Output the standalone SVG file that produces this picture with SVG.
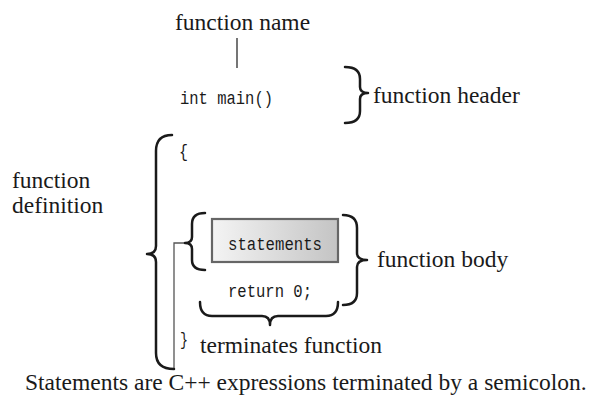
<svg xmlns="http://www.w3.org/2000/svg" width="599" height="396" viewBox="0 0 599 396">
<style>
.serif{font-family:"Liberation Serif","Times New Roman",serif;font-size:23.5px;fill:#1a1a1a}
.mono{font-family:"Liberation Mono","DejaVu Sans Mono",monospace;font-size:18.5px;fill:#1a1a1a}
.brace{fill:none;stroke:#1a1a1a;stroke-width:2.5;stroke-linecap:round;stroke-linejoin:round}
.thin{fill:none;stroke:#555;stroke-width:1.3}
.name{fill:none;stroke:#1a1a1a;stroke-width:1.2}
</style>
<defs>
<linearGradient id="g" x1="0" y1="0" x2="1" y2="0">
<stop offset="0" stop-color="#f4f4f4"/>
<stop offset="1" stop-color="#c4c4c4"/>
</linearGradient>
</defs>
<rect width="599" height="396" fill="#fff"/>
<g id="connectors">
<line class="name" x1="237" y1="38" x2="237" y2="68"/>
<path class="thin" d="M174 369 L174 243 L186 243"/>
</g>
<g id="function-name"><text class="serif" x="175" y="30">function name</text></g>
<g id="header">
<text class="mono" x="180" y="104" textLength="93" lengthAdjust="spacingAndGlyphs">int main()</text>
<path class="brace" d="M345 67 Q360 67 360 79 L360 87 Q360 93 368 93 Q360 93 360 99 L360 111 Q360 123 345 123"/>
<text class="serif" x="373" y="103">function header</text>
</g>
<g id="definition">
<path class="brace" d="M172 135 Q156 135 156 151 L156 246 Q156 254 147 254 Q156 254 156 262 L156 353 Q156 369 174 369"/>
<text class="serif" x="12" y="188">function</text>
<text class="serif" x="12" y="213">definition</text>
<text class="mono" x="179" y="157" textLength="9" lengthAdjust="spacingAndGlyphs">{</text>
</g>
<g id="statements">
<path class="brace" d="M205 213 Q192 213 192 224 L192 237 Q192 243 185 243 Q192 243 192 249 L192 260 Q192 270 205 270"/>
<rect x="212" y="219" width="126" height="43" fill="url(#g)" stroke="#666" stroke-width="2.2"/>
<text class="mono" x="228" y="250" textLength="94" lengthAdjust="spacingAndGlyphs">statements</text>
</g>
<g id="body">
<text class="mono" x="228" y="297" textLength="84" lengthAdjust="spacingAndGlyphs">return 0;</text>
<path class="brace" d="M343 215 Q357 215 357 228 L357 253 Q357 260 367 260 Q357 260 357 267 L357 293 Q357 305 343 305"/>
<text class="serif" x="377" y="267">function body</text>
</g>
<g id="terminates">
<path class="brace" d="M200 302 Q200 316 212 316 L262 316 Q270 316 270 325 Q270 316 278 316 L326 316 Q338 316 338 302"/>
<text class="mono" x="180" y="345" textLength="8" lengthAdjust="spacingAndGlyphs">}</text>
<text class="serif" x="200" y="353">terminates function</text>
</g>
<g id="caption"><text class="serif" x="25" y="390">Statements are C++ expressions terminated by a semicolon.</text></g>
</svg>
